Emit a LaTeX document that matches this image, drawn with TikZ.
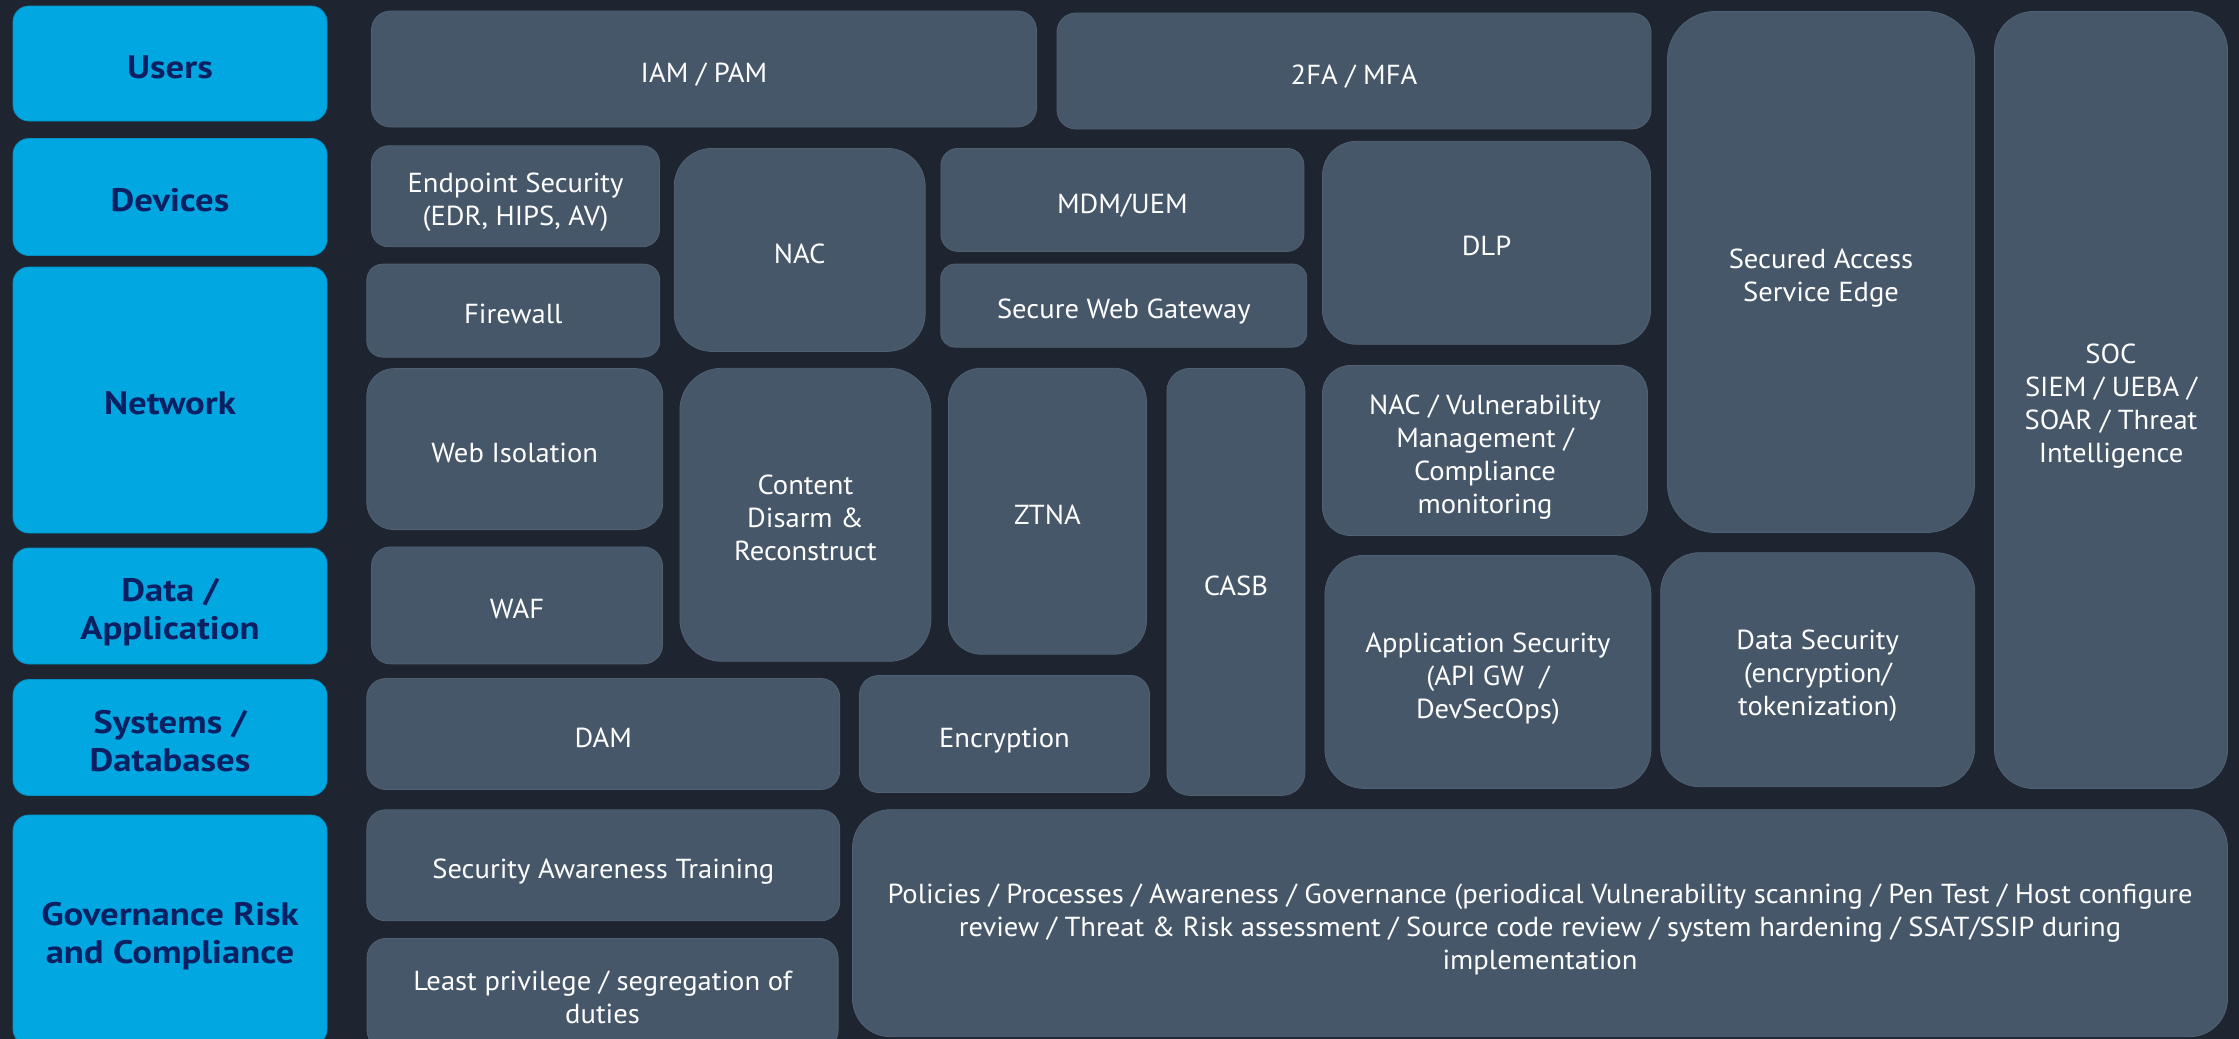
\documentclass[tikz,border=0pt]{standalone}
\usepackage{fontspec}
\setmainfont{PT Sans}[FakeStretch=1.04]
\newfontfamily\layerfont{PT Sans}[FakeStretch=1.13]
\definecolor{bgnavy}{RGB}{30,36,48}
\definecolor{tilegray}{RGB}{70,87,106}
\definecolor{tileedge}{RGB}{80,97,116}
\definecolor{layerblue}{RGB}{0,167,224}
\definecolor{layeredge}{RGB}{0,145,198}
\definecolor{layertext}{RGB}{10,32,98}
% centred lines, lowered a little inside the box
\newcommand{\tiletxt}[2][6.5pt]{\raisebox{-#1}[\height][\depth]{\begin{tabular}{@{}c@{}}#2\end{tabular}}}
\begin{document}
\begin{tikzpicture}[x=1pt,y=1pt,yscale=-1,
	tile/.style={fill=tilegray,draw=tileedge,line width=0.8pt,text=white,inner sep=0pt,font=\fontsize{27.5}{33}\selectfont},
	layer/.style={fill=layerblue,draw=layeredge,line width=0.8pt,text=layertext,inner sep=0pt,rounded corners=16pt,minimum width=314pt,font=\layerfont\bfseries\fontsize{32.5}{38}\selectfont}]
	\useasboundingbox (0,0) rectangle (2239,1039);
	\fill [bgnavy] (0,0) rectangle (2239,1039);
	
	% Layers (left column)
	\node [layer,minimum height=115pt] (users) at (170,63.5) {\tiletxt[7pt]{Users}};
	\node [layer,minimum height=117pt] (devices) at (170,197) {\tiletxt[7pt]{Devices}};
	\node [layer,minimum height=266pt] (network) at (170,400) {\tiletxt[7pt]{Network}};
	\node [layer,minimum height=116pt] (dataapp) at (170,606) {\tiletxt[7pt]{Data /\\Application}};
	\node [layer,minimum height=116pt] (systems) at (170,737.5) {\tiletxt[7pt]{Systems /\\Databases}};
	\node [layer,minimum height=230pt] (grc) at (170,930) {\tiletxt[7pt]{Governance Risk\\and Compliance}};
	
	% Row: users
	\node [tile,minimum width=665pt,minimum height=116pt,rounded corners=19pt] (iam) at (704,69) {\tiletxt{IAM / PAM}};
	\node [tile,minimum width=594pt,minimum height=116pt,rounded corners=19pt] (mfa) at (1354,71) {\tiletxt{2FA / MFA}};
	\node [tile,minimum width=307pt,minimum height=521pt,rounded corners=48pt] (sase) at (1821,272) {\tiletxt{Secured Access\\Service Edge}};
	\node [tile,minimum width=233pt,minimum height=777pt,rounded corners=39pt] (soc) at (2111,400) {\tiletxt{SOC\\SIEM / UEBA /\\SOAR / Threat\\Intelligence}};
	
	% Row: devices
	\node [tile,minimum width=288pt,minimum height=101pt,rounded corners=17pt] (endpoint) at (515.5,196.3) {\tiletxt{Endpoint Security\\(EDR, HIPS, AV)}};
	\node [tile,minimum width=293pt,minimum height=93pt,rounded corners=16pt] (firewall) at (513.3,310.6) {\tiletxt{Firewall}};
	\node [tile,minimum width=251pt,minimum height=203pt,rounded corners=38pt] (nac) at (799.7,249.9) {\tiletxt{NAC}};
	\node [tile,minimum width=363pt,minimum height=103pt,rounded corners=17pt] (mdm) at (1122.4,199.9) {\tiletxt{MDM/UEM}};
	\node [tile,minimum width=366pt,minimum height=83pt,rounded corners=14pt] (swg) at (1123.8,305.6) {\tiletxt{Secure Web Gateway}};
	\node [tile,minimum width=328pt,minimum height=203pt,rounded corners=34pt] (dlp) at (1486.5,242.8) {\tiletxt{DLP}};
	
	% Row: network
	\node [tile,minimum width=296pt,minimum height=161pt,rounded corners=27pt] (webiso) at (514.8,449.1) {\tiletxt{Web Isolation}};
	\node [tile,minimum width=251pt,minimum height=293pt,rounded corners=42pt] (cdr) at (805.4,514.8) {\tiletxt{Content\\Disarm \&\\Reconstruct}};
	\node [tile,minimum width=198pt,minimum height=286pt,rounded corners=33pt] (ztna) at (1047.4,511.2) {\tiletxt{ZTNA}};
	\node [tile,minimum width=138pt,minimum height=427pt,rounded corners=23pt] (casb) at (1235.9,581.9) {\tiletxt{CASB}};
	\node [tile,minimum width=325pt,minimum height=170pt,rounded corners=28pt] (vuln) at (1485,450.5) {\tiletxt{NAC / Vulnerability\\Management /\\Compliance\\monitoring}};
	
	% Row: data / application
	\node [tile,minimum width=291pt,minimum height=117pt,rounded corners=19pt] (waf) at (517,605.4) {\tiletxt{WAF}};
	\node [tile,minimum width=326pt,minimum height=233pt,rounded corners=39pt] (appsec) at (1487.9,671.9) {\tiletxt{Application Security\\(API GW~~/\\DevSecOps)}};
	\node [tile,minimum width=314pt,minimum height=234pt,rounded corners=39pt] (datasec) at (1817.7,669.7) {\tiletxt{Data Security\\(encryption/\\tokenization)}};
	
	% Row: systems / databases
	\node [tile,minimum width=473pt,minimum height=111pt,rounded corners=19pt] (dam) at (603.3,734) {\tiletxt{DAM}};
	\node [tile,minimum width=290pt,minimum height=117pt,rounded corners=19pt] (encrypt) at (1004.5,734) {\tiletxt{Encryption}};
	
	% Row: governance
	\node [tile,minimum width=473pt,minimum height=111pt,rounded corners=19pt] (sat) at (603.3,865.3) {\tiletxt{Security Awareness Training}};
	\node [tile,minimum width=471pt,minimum height=111pt,rounded corners=19pt] (leastpriv) at (602.6,993.9) {\tiletxt{Least privilege / segregation of\\duties}};
	\node [tile,minimum width=1375pt,minimum height=227pt,rounded corners=38pt] (policies) at (1540,923.2) {\tiletxt{Policies / Processes / Awareness / Governance (periodical Vulnerability scanning / Pen Test / Host configure\\review / Threat \& Risk assessment / Source code review / system hardening / SSAT/SSIP during\\implementation}};
	
\end{tikzpicture}
\end{document}
